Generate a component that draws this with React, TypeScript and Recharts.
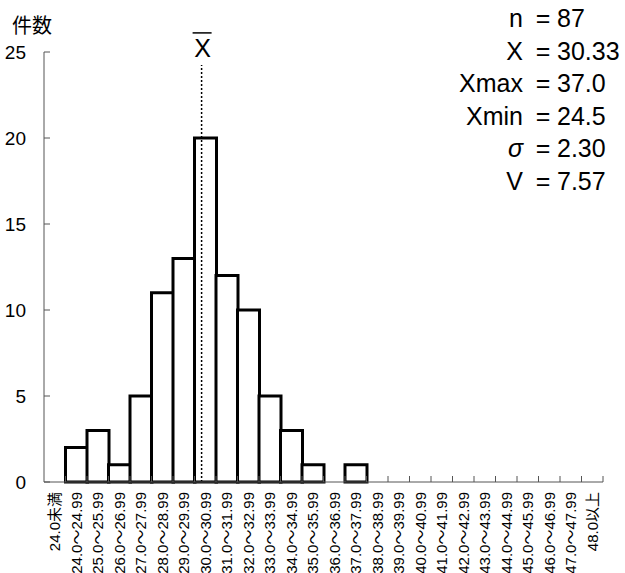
import React from 'react';
import { BarChart, Bar, XAxis, YAxis, ReferenceLine } from 'recharts';

// 度数分布（階級ごとの件数）
const classLabels = [
  '24.0未満', '24.0～24.99', '25.0～25.99', '26.0～26.99', '27.0～27.99',
  '28.0～28.99', '29.0～29.99', '30.0～30.99', '31.0～31.99', '32.0～32.99',
  '33.0～33.99', '34.0～34.99', '35.0～35.99', '36.0～36.99', '37.0～37.99',
  '38.0～38.99', '39.0～39.99', '40.0～40.99', '41.0～41.99', '42.0～42.99',
  '43.0～43.99', '44.0～44.99', '45.0～45.99', '46.0～46.99', '47.0～47.99',
  '48.0以上',
];
// 階級値（平均線の位置合わせ用）
const classMids = [
  23.5, 24.5, 25.5, 26.5, 27.5, 28.5, 29.5, 30.5, 31.5, 32.5, 33.5, 34.5, 35.5,
  36.5, 37.5, 38.5, 39.5, 40.5, 41.5, 42.5, 43.5, 44.5, 45.5, 46.5, 47.5, 48.5,
];
const counts = [0, 2, 3, 1, 5, 11, 13, 20, 12, 10, 5, 3, 1, 0, 1, 0, 0, 0, 0, 0, 0, 0, 0, 0, 0, 0];
const yTicks = [0, 5, 10, 15, 20, 25];
const meanValue = 30.33;
const statNames = ['n', 'X', 'Xmax', 'Xmin', 'σ', 'V'];
const statValues = ['87', '30.33', '37.0', '24.5', '2.30', '7.57'];

const data = classLabels.map((name, i) => ({ name, mid: classMids[i], count: counts[i] }));

const FONT = '"Liberation Sans", Arial, "Noto Sans CJK JP", sans-serif';
const AXIS = '#555';
const X_MARGIN = 10;
const Y_MARGIN = 18;

// 階級ラベル（縦書き）＋階級境界の内向き目盛り
const ClassTick = (props: any) => {
  const { x, y, payload } = props;
  const half = payload && payload.offset ? payload.offset : 10.74;
  const axisY = y - X_MARGIN;
  return (
    <g>
      <line x1={x + half} x2={x + half} y1={axisY} y2={axisY - 6} stroke={AXIS} strokeWidth={1} />
      <text
        x={x}
        y={y}
        transform={`rotate(-90, ${x}, ${y})`}
        textAnchor="end"
        dominantBaseline="central"
        fontSize={15}
        fontFamily={FONT}
        fill="#000"
      >
        {payload.value}
      </text>
    </g>
  );
};

const CountTick = (props: any) => {
  const { x, y, payload } = props;
  const axisX = x + Y_MARGIN;
  return (
    <g>
      <line x1={axisX} x2={axisX + 6} y1={y} y2={y} stroke={AXIS} strokeWidth={1} />
      <text x={x} y={y} textAnchor="end" dominantBaseline="central" fontSize={19} fontFamily={FONT} fill="#000">
        {payload.value}
      </text>
    </g>
  );
};

const MeanLabel = (props: any) => {
  const vb = props.viewBox || {};
  const x = vb.x;
  const top = vb.y;
  return (
    <g>
      <line x1={x - 9} x2={x + 10} y1={top - 32} y2={top - 32} stroke="#000" strokeWidth={1.5} />
      <text x={x + 1} y={top - 8} textAnchor="middle" fontSize={25} fontFamily={FONT} fill="#000">
        X
      </text>
    </g>
  );
};

export default function App() {
  return (
    <div style={{ position: 'absolute', left: 0, top: 0, width: 625, height: 573, background: '#fff' }}>
      <BarChart
        width={625}
        height={573}
        data={data}
        margin={{ top: 52, right: 22, left: 0, bottom: 0 }}
        barCategoryGap={0}
      >
        <XAxis
          dataKey="name"
          interval={0}
          height={91}
          stroke={AXIS}
          tickLine={false}
          tickSize={0}
          tickMargin={X_MARGIN}
          tick={<ClassTick />}
        />
        <XAxis
          xAxisId="num"
          dataKey="mid"
          type="number"
          domain={[23, 49]}
          allowDataOverflow
          hide
        />
        <YAxis
          width={44}
          domain={[0, 25]}
          ticks={yTicks}
          interval={0}
          stroke={AXIS}
          tickLine={false}
          tickSize={0}
          tickMargin={Y_MARGIN}
          tick={<CountTick />}
        />
        <Bar dataKey="count" fill="#fff" stroke="#000" strokeWidth={3} isAnimationActive={false} />
        <ReferenceLine
          xAxisId="num"
          segment={[{ x: meanValue, y: 0 }, { x: meanValue, y: 24.25 }]}
          stroke="#000"
          strokeWidth={1.5}
          strokeDasharray="2 2"
          label={<MeanLabel />}
        />
      </BarChart>
      <svg width={625} height={573} style={{ position: 'absolute', left: 0, top: 0, pointerEvents: 'none' }}>
        <text x={12} y={33} fontSize={20} fontFamily={FONT} fill="#000">件数</text>
        {statNames.map((s, i) => (
          <g key={s} fontFamily={FONT} fontSize={25} fill="#000">
            <text x={523} y={27 + i * 32.6} textAnchor="end" fontStyle={s === 'σ' ? 'italic' : 'normal'}>{s}</text>
            <text x={543} y={27 + i * 32.6} textAnchor="middle">=</text>
            <text x={557} y={27 + i * 32.6}>{statValues[i]}</text>
          </g>
        ))}
      </svg>
    </div>
  );
}
